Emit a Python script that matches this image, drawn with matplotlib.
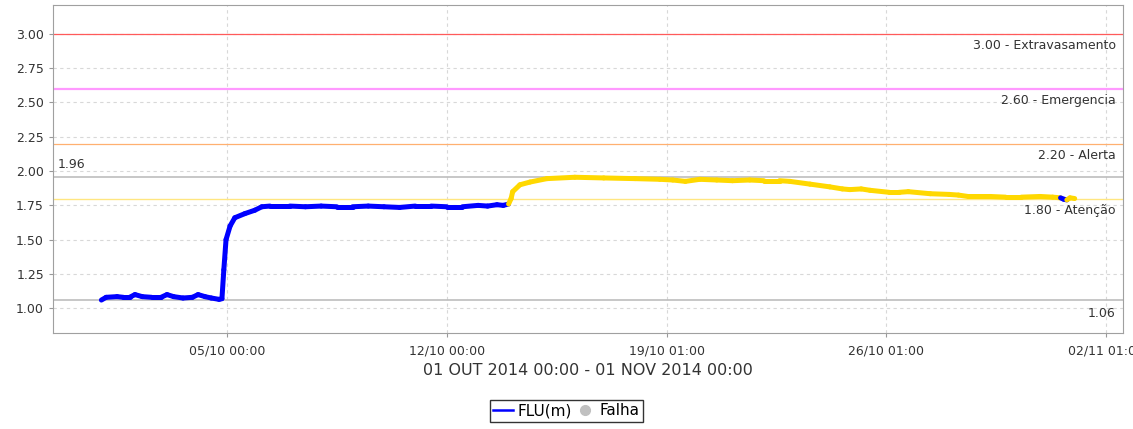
import matplotlib.pyplot as plt
from matplotlib.lines import Line2D

# days since 01/10/2014 00:00 and river level (m)
days = [0.00, 0.15, 0.50, 0.70, 0.90, 1.07, 1.30, 1.60, 1.90, 2.09, 2.30, 2.60, 2.90, 3.08,
        3.30, 3.50, 3.75, 3.84, 3.90, 3.97, 4.10, 4.25, 4.57, 4.89, 5.11, 5.37, 6.0, 6.5,
        7.0, 7.5, 8.0, 8.5, 9.0, 9.5, 10.0, 10.5, 11.0, 11.5, 12.0, 12.3, 12.6, 12.8, 12.97,
        13.05, 13.10, 13.33, 13.65, 14.19, 15.08, 16.0, 17.0, 17.79, 18.2, 18.6, 19.06, 19.6,
        20.1, 20.65, 21.1, 21.6, 21.93, 22.57, 23.2, 23.6, 23.84, 24.2, 24.48, 25.1, 25.4,
        25.7, 26.4, 27.0, 27.3, 27.6, 28.3, 28.8, 29.3, 29.9, 30.3, 30.55, 30.65, 30.75, 30.85, 31.0]
level = [1.060, 1.080, 1.085, 1.080, 1.080, 1.100, 1.085, 1.080, 1.080, 1.100, 1.085, 1.075,
         1.080, 1.100, 1.085, 1.075, 1.065, 1.070, 1.280, 1.500, 1.600, 1.660, 1.690, 1.715,
         1.740, 1.745, 1.745, 1.740, 1.745, 1.740, 1.740, 1.745, 1.740, 1.735, 1.745, 1.745,
         1.740, 1.740, 1.750, 1.745, 1.755, 1.750, 1.760,
         1.800, 1.850, 1.900, 1.920, 1.945, 1.955, 1.950, 1.945, 1.940, 1.935, 1.925, 1.940,
         1.935, 1.930, 1.935, 1.930, 1.930, 1.925, 1.905, 1.885, 1.870, 1.865, 1.870, 1.860,
         1.845, 1.845, 1.850, 1.835, 1.830, 1.825, 1.815, 1.815, 1.810, 1.810, 1.815, 1.810,
         1.805, 1.795, 1.790, 1.805, 1.800]

attention = 1.80
ref_values = [3.00, 2.60, 2.20, 1.80]
ref_labels = ['3.00 - Extravasamento', '2.60 - Emergencia', '2.20 - Alerta', '1.80 - Atenção']
ref_colors = ['#ff5a5a', '#ff99ff', '#ffb070', '#ffe680']
ref_widths = [0.9, 1.6, 0.9, 1.0]
level_max = 1.96
level_min = 1.06

tick_days = [4, 11, 18, 25, 32]
tick_labels = ['05/10 00:00', '12/10 00:00', '19/10 01:00', '26/10 01:00', '02/11 01:00']

fig = plt.figure(figsize=(11.33, 4.29), dpi=100)
ax = fig.add_axes([0.0468, 0.2238, 0.9444, 0.7644])

# threshold / extreme lines
for v, lab, c, w in zip(ref_values, ref_labels, ref_colors, ref_widths):
    ax.axhline(v, color=c, lw=w, zorder=2)
    ax.text(0.993, v - 0.085, lab, transform=ax.get_yaxis_transform(), ha='right', va='center',
            fontsize=9, color='#333333')
ax.axhline(level_max, color='#bdbdbd', lw=1.2, zorder=2)
ax.axhline(level_min, color='#bdbdbd', lw=1.2, zorder=2)
ax.text(0.004, level_max + 0.085, f'{level_max:.2f}', transform=ax.get_yaxis_transform(),
        ha='left', va='center', fontsize=9, color='#333333')
ax.text(0.993, level_min - 0.095, f'{level_min:.2f}', transform=ax.get_yaxis_transform(),
        ha='right', va='center', fontsize=9, color='#333333')

# series, coloured blue below the attention level and yellow above
def col(v):
    return '#ffd800' if v >= attention else '#0000ff'

for i in range(1, len(days)):
    ax.plot(days[i - 1:i + 1], level[i - 1:i + 1], color=col(level[i]), lw=3.6,
            solid_capstyle='round', zorder=3)

ax.set_xlim(-1.54, 32.54)
ax.set_ylim(0.82, 3.21)
ax.set_yticks([1.00, 1.25, 1.50, 1.75, 2.00, 2.25, 2.50, 2.75, 3.00])
ax.set_yticklabels([f'{t:.2f}' for t in ax.get_yticks()])
ax.set_xticks(tick_days)
ax.set_xticklabels(tick_labels)
ax.grid(True, color='#d8d8d8', ls=(0, (3, 3)), lw=0.8)
ax.set_axisbelow(True)
ax.tick_params(axis='both', labelsize=9, colors='#333333', length=3, color='#999999')
ax.tick_params(axis='x', pad=5)
for s in ax.spines.values():
    s.set_color('#a0a0a0')
ax.set_xlabel('01 OUT 2014 00:00 - 01 NOV 2014 00:00', fontsize=11.5, color='#333333', labelpad=4)

handles = [Line2D([], [], color='#0000ff', lw=1.8),
           Line2D([], [], color='#c0c0c0', marker='o', ls='none', markersize=7)]
leg = fig.legend(handles, ['FLU(m)', 'Falha'], loc='center', bbox_to_anchor=(0.5, 0.042), ncol=2,
                 fontsize=11, frameon=True, fancybox=False, edgecolor='black', handlelength=1.3,
                 handletextpad=0.3, columnspacing=0.2, borderpad=0.25, borderaxespad=0)
leg.get_frame().set_linewidth(1.0)

fig.savefig('out.png', dpi=100)
